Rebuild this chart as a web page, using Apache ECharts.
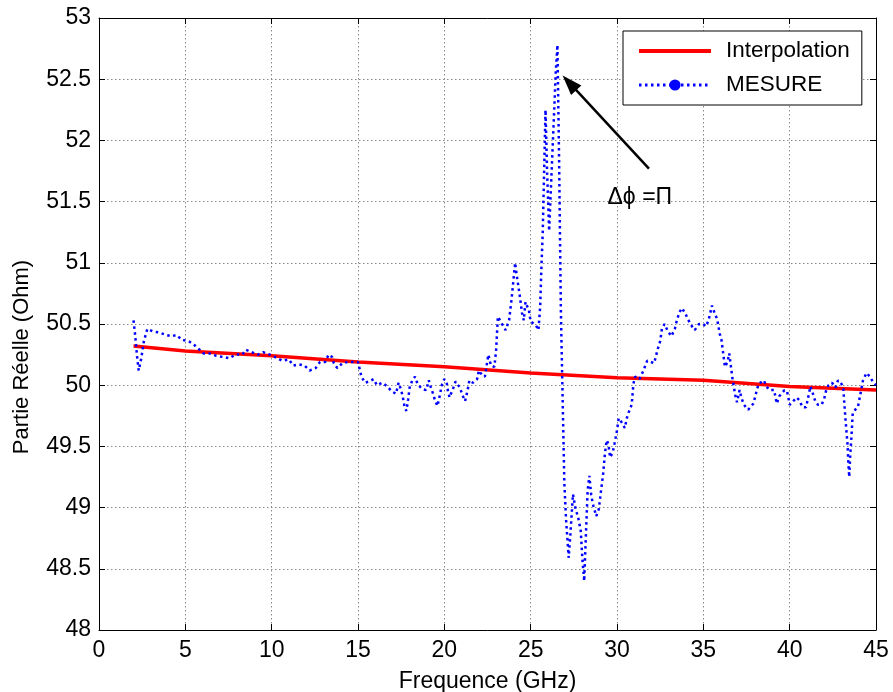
<!DOCTYPE html>
<html>
<head>
<meta charset="utf-8">
<script src="https://cdn.jsdelivr.net/npm/echarts@6/dist/echarts.min.js"></script>
<style>
html,body{margin:0;padding:0;background:#fff;}
#chart{width:893px;height:692px;}
</style>
</head>
<body>
<div id="chart"></div>
<script>
// ---- data ----
var xTicks = [0, 5, 10, 15, 20, 25, 30, 35, 40, 45];
var yTicks = [48, 48.5, 49, 49.5, 50, 50.5, 51, 51.5, 52, 52.5, 53];

var interpFreq = [2, 5, 10, 15, 20, 25, 30, 35, 40, 45];
var interpVal  = [50.32, 50.28, 50.24, 50.19, 50.15, 50.10, 50.06, 50.04, 49.99, 49.96];

var mesFreq = [
  2.0, 2.1, 2.2, 2.3, 2.45, 2.6, 2.8, 3.1, 3.5, 3.9, 4.2, 4.5, 4.8, 5.2, 5.5, 5.75,
  6.05, 6.4, 6.8, 7.2, 7.55, 7.9, 8.3, 8.5, 8.85, 9.2, 9.5, 9.9, 10.2, 10.6, 11.0,
  11.25, 11.6, 11.9, 12.2, 12.55, 12.8, 13.1, 13.3, 13.5, 13.6, 13.8, 14.1, 14.45,
  14.7, 15.0, 15.1, 15.2, 15.4, 15.65, 15.9, 16.1, 16.4, 16.7, 16.95, 17.2, 17.35,
  17.5, 17.6, 17.7, 17.8, 17.9, 18.0, 18.15, 18.3, 18.45, 18.7, 18.95, 19.1, 19.2,
  19.35, 19.45, 19.6, 19.7, 19.85, 20.0, 20.15, 20.2, 20.3, 20.5, 20.65, 20.9, 21.05,
  21.2, 21.35, 21.45, 21.65, 21.9, 22.0, 22.2, 22.35, 22.55, 22.7, 22.9, 23.0, 23.1,
  23.3, 23.55, 23.75, 23.9, 24.1, 24.2, 24.35, 24.5, 24.6, 24.7, 24.8, 24.9, 25.0,
  25.3, 25.45, 25.55, 25.62, 25.7, 25.78, 25.86, 25.95, 26.07, 26.2, 26.35, 26.45,
  26.55, 26.65, 26.75, 26.85, 26.95, 27.05, 27.15, 27.2, 27.3, 27.4, 27.45, 27.6,
  27.75, 27.9, 28.0, 28.1, 28.2, 28.3, 28.4, 28.5, 28.6, 28.7, 28.8, 28.95, 29.05,
  29.2, 29.3, 29.4, 29.5, 29.6, 29.75, 29.85, 30.0, 30.1, 30.3, 30.45, 30.6, 30.85,
  30.95, 31.05, 31.3, 31.5, 31.75, 32.15, 32.35, 32.5, 32.6, 32.75, 32.95, 33.15,
  33.35, 33.45, 33.6, 33.75, 33.95, 34.1, 34.3, 34.5, 34.75, 35.0, 35.15, 35.3, 35.5,
  35.65, 35.8, 35.95, 36.05, 36.15, 36.25, 36.4, 36.5, 36.6, 36.7, 36.85, 36.95, 37.1,
  37.2, 37.35, 37.6, 37.9, 38.1, 38.2, 38.5, 38.65, 38.85, 39.1, 39.25, 39.4, 39.5,
  39.7, 39.85, 40.0, 40.15, 40.4, 40.55, 40.75, 40.95, 41.1, 41.2, 41.35, 41.5, 41.65,
  41.85, 42.0, 42.1, 42.25, 42.45, 42.65, 42.8, 42.95, 43.1, 43.15, 43.25, 43.35, 43.4,
  43.45, 43.5, 43.6, 43.65, 43.8, 43.95, 44.1, 44.25, 44.45, 44.65, 44.85, 45.0
];
var mesVal = [
  50.53, 50.40, 50.24, 50.12, 50.22, 50.36, 50.46, 50.44, 50.43, 50.41, 50.40, 50.41, 50.37, 50.36, 50.33, 50.30,
  50.26, 50.26, 50.24, 50.23, 50.22, 50.25, 50.25, 50.29, 50.27, 50.25, 50.27, 50.25, 50.23, 50.20, 50.21,
  50.16, 50.17, 50.16, 50.12, 50.14, 50.19, 50.19, 50.25, 50.23, 50.18, 50.14, 50.18, 50.19,
  50.19, 50.19, 50.13, 50.07, 50.02, 50.03, 50.05, 50.00, 50.02, 49.99, 49.95, 49.93, 50.02,
  49.96, 49.90, 49.82, 49.79, 49.88, 49.99, 50.04, 50.07, 50.01, 49.97, 49.96, 50.04, 49.99,
  49.93, 49.88, 49.83, 49.89, 50.00, 50.05, 50.01, 49.96, 49.90, 49.97, 50.03, 49.98, 49.92,
  49.87, 49.96, 50.04, 50.02, 50.05, 50.12, 50.08, 50.07, 50.25, 50.16, 50.15, 50.29, 50.56,
  50.51, 50.45, 50.53, 50.71, 51.00, 50.89, 50.75, 50.59, 50.53, 50.68, 50.67, 50.61, 50.52,
  50.49, 50.45, 50.64, 50.95, 51.25, 51.75, 52.25, 51.75, 51.26, 51.70, 52.20, 52.55,
  52.78, 51.80, 50.60, 49.90, 49.20, 48.90, 48.70, 48.59, 48.78, 49.00, 49.11, 48.99,
  48.92, 48.81, 48.57, 48.40, 48.78, 49.14, 49.26, 49.11, 49.03, 48.98, 48.93, 48.99, 49.11,
  49.28, 49.44, 49.55, 49.52, 49.41, 49.45, 49.52, 49.63, 49.73, 49.69, 49.65, 49.75, 49.84,
  50.01, 50.07, 50.05, 50.11, 50.20, 50.18, 50.29, 50.36, 50.46, 50.50, 50.44, 50.40,
  50.46, 50.52, 50.59, 50.63, 50.59, 50.54, 50.49, 50.45, 50.50, 50.50, 50.48, 50.53, 50.65,
  50.59, 50.54, 50.42, 50.37, 50.26, 50.15, 50.19, 50.26, 50.15, 50.04, 49.92, 49.86, 49.96,
  49.90, 49.84, 49.80, 49.85, 49.96, 50.01, 50.04, 49.99, 49.96, 49.96, 49.85, 49.91, 49.91,
  49.96, 49.95, 49.84, 49.86, 49.90, 49.88, 49.82, 49.82, 49.92, 49.99, 49.93, 49.86, 49.84,
  49.84, 49.89, 49.95, 50.00, 50.02, 49.98, 50.04, 50.02, 49.99, 49.88, 49.69, 49.52, 49.36,
  49.25, 49.41, 49.63, 49.77, 49.80, 49.82, 49.93, 50.04, 50.10, 50.07, 50.02, 50.00
];

var annotText = 'Δϕ =Π';
var arrowFrom = [31.85, 51.77];
var arrowTo = [26.85, 52.53];
var textPos = [29.45, 51.53];

// ---- build ----
function zip(a, b) { return a.map(function (v, i) { return [v, b[i]]; }); }
var FONT = 'Liberation Sans, Arial, Helvetica, sans-serif';

var chart = echarts.init(document.getElementById('chart'), null, {renderer: 'canvas'});
var gridLine = {show: true, lineStyle: {color: '#8a8a8a', width: 1, type: [1.5, 2.5]}};
var tickStyle = {show: true, inside: true, length: 6, lineStyle: {color: '#000', width: 1}};

chart.setOption({
  animation: false,
  backgroundColor: '#fff',
  grid: {left: 99, right: 17, top: 18, bottom: 62, containLabel: false, outerBoundsMode: 'none'},
  xAxis: [{
    type: 'value', min: xTicks[0], max: xTicks[xTicks.length - 1], interval: 5,
    position: 'bottom',
    name: 'Frequence (GHz)', nameLocation: 'middle', nameGap: 40,
    nameTextStyle: {fontFamily: FONT, fontSize: 23, color: '#000'},
    axisLine: {show: true, onZero: false, lineStyle: {color: '#000', width: 1}},
    axisTick: tickStyle,
    axisLabel: {fontFamily: FONT, fontSize: 23, color: '#000', margin: 9},
    splitLine: gridLine
  }, {
    type: 'value', min: xTicks[0], max: xTicks[xTicks.length - 1], interval: 5,
    position: 'top',
    axisLine: {show: true, onZero: false, lineStyle: {color: '#000', width: 1}},
    axisTick: tickStyle, axisLabel: {show: false}, splitLine: {show: false}
  }],
  yAxis: [{
    type: 'value', min: yTicks[0], max: yTicks[yTicks.length - 1], interval: 0.5,
    position: 'left',
    axisLine: {show: true, onZero: false, lineStyle: {color: '#000', width: 1}},
    axisTick: tickStyle,
    axisLabel: {fontFamily: FONT, fontSize: 23, color: '#000', margin: 8},
    splitLine: gridLine
  }, {
    type: 'value', min: yTicks[0], max: yTicks[yTicks.length - 1], interval: 0.5,
    position: 'right',
    axisLine: {show: true, onZero: false, lineStyle: {color: '#000', width: 1}},
    axisTick: tickStyle, axisLabel: {show: false}, splitLine: {show: false}
  }],
  legend: {
    orient: 'vertical', left: 623, top: 31,
    backgroundColor: '#fff', borderColor: '#000', borderWidth: 1,
    padding: [8, 12, 8, 14], itemGap: 10,
    itemWidth: 72, itemHeight: 14,
    textStyle: {fontFamily: FONT, fontSize: 22.5, color: '#000', lineHeight: 24, padding: [0, 0, 0, 10]},
    data: [
      {name: 'Interpolation', itemStyle: {opacity: 0}, lineStyle: {width: 4}},
      {name: 'MESURE', lineStyle: {width: 3}}
    ]
  },
  series: [{
    name: 'Interpolation', type: 'line',
    data: zip(interpFreq, interpVal),
    symbol: 'none', showSymbol: false,
    lineStyle: {color: '#ff0000', width: 3.5},
    itemStyle: {color: '#ff0000'},
    z: 3
  }, {
    name: 'MESURE', type: 'line',
    data: zip(mesFreq, mesVal),
    symbol: 'circle', symbolSize: 8, showSymbol: false,
    lineStyle: {color: '#0000ff', width: 2.5, type: [2.5, 3.5], cap: 'butt'},
    itemStyle: {color: '#0000ff'},
    z: 4
  }]
});

// annotation (arrow + text) positioned in data coordinates
var pA = chart.convertToPixel({xAxisIndex: 0, yAxisIndex: 0}, arrowFrom);
var pB = chart.convertToPixel({xAxisIndex: 0, yAxisIndex: 0}, arrowTo);
var pT = chart.convertToPixel({xAxisIndex: 0, yAxisIndex: 0}, textPos);
var dx = pB[0] - pA[0], dy = pB[1] - pA[1];
var L = Math.sqrt(dx * dx + dy * dy), ux = dx / L, uy = dy / L;
var headLen = 20, headHalf = 7;
var bx = pB[0] - ux * headLen, by = pB[1] - uy * headLen;
chart.setOption({
  graphic: [{
    type: 'line', z: 100,
    shape: {x1: pA[0], y1: pA[1], x2: bx + ux * 2, y2: by + uy * 2},
    style: {stroke: '#000', lineWidth: 2.5}
  }, {
    type: 'polygon', z: 100,
    shape: {points: [[pB[0], pB[1]], [bx - uy * headHalf, by + ux * headHalf], [bx + uy * headHalf, by - ux * headHalf]]},
    style: {fill: '#000'}
  }, {
    type: 'text', z: 100, x: pT[0], y: pT[1],
    style: {text: annotText, font: '23px ' + FONT, fill: '#000', textAlign: 'left', textVerticalAlign: 'middle'}
  }, {
    type: 'text', z: 100, x: 22, y: 357, rotation: Math.PI / 2,
    style: {text: 'Partie Réelle (Ohm)', font: '22px ' + FONT, fill: '#000', textAlign: 'center', textVerticalAlign: 'middle'}
  }]
});
</script>
</body>
</html>
